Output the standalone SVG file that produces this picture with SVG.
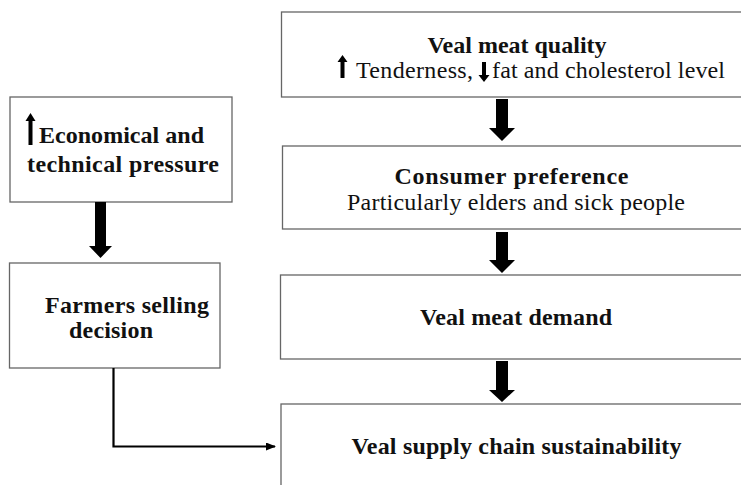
<svg xmlns="http://www.w3.org/2000/svg" width="741" height="485" viewBox="0 0 741 485">
<style>
.box{fill:#fff;stroke:#666;stroke-width:1.3}
text{font-family:'Liberation Serif','Times New Roman','DejaVu Serif',serif;font-size:24px;fill:#111}
.b{font-weight:bold}
.m{text-anchor:middle}
.big{fill:#000}
.conn{fill:none;stroke:#000;stroke-width:2.2}
</style>
<defs>
<marker id="ah" markerWidth="10" markerHeight="8" refX="9" refY="4" orient="auto" markerUnits="userSpaceOnUse">
<path d="M0,0 L10,4 L0,8 Z" fill="#000"/>
</marker>
</defs>
<rect width="741" height="485" fill="#fff"/>

<g id="quality">
<rect class="box" x="281.5" y="12" width="470" height="85"/>
<text class="b m" x="517" y="53">Veal meat quality</text>
<path d="M340.5,78 L340.5,62 L337.5,62 L342.5,55 L347.5,62 L344.5,62 L344.5,78 Z" fill="#000"/>
<text x="356" y="78" textLength="117">Tenderness,</text>
<path d="M482,62 L486,62 L486,75 L489.5,75 L484,82 L478.5,75 L482,75 Z" fill="#000"/>
<text x="492" y="78" textLength="233">fat and cholesterol level</text>
</g>

<g id="preference">
<rect class="box" x="282.5" y="146" width="470" height="83"/>
<text class="b m" x="511.5" y="184" textLength="234">Consumer preference</text>
<text class="m" x="516" y="210" textLength="338">Particularly elders and sick people</text>
</g>

<g id="demand">
<rect class="box" x="280.5" y="275" width="470" height="84"/>
<text class="b m" x="516" y="325" textLength="192">Veal meat demand</text>
</g>

<g id="sustainability">
<rect class="box" x="281" y="404" width="470" height="90"/>
<text class="b m" x="516.5" y="454" textLength="330">Veal supply chain sustainability</text>
</g>

<g id="pressure">
<rect class="box" x="10" y="97" width="222" height="105"/>
<path d="M28.5,145 L28.5,121 L25.5,121 L30.5,113 L35.5,121 L32.5,121 L32.5,145 Z" fill="#000"/>
<text class="b" x="39" y="143" textLength="165">Economical and</text>
<text class="b" x="27" y="172" textLength="192">technical pressure</text>
</g>

<g id="farmers">
<rect class="box" x="9.5" y="263" width="210.5" height="105"/>
<text class="b" x="45" y="313" textLength="164">Farmers selling</text>
<text class="b" x="69" y="338" textLength="84">decision</text>
</g>

<g id="connectors">
<path class="big" d="M95,202 L106,202 L106,246 L112,246 L100.5,258 L89,246 L95,246 Z"/>
<path class="big" d="M496,99 L508,99 L508,128 L515,128 L502,141 L489,128 L496,128 Z"/>
<path class="big" d="M496,232 L508,232 L508,260 L515,260 L502,273 L489,260 L496,260 Z"/>
<path class="big" d="M496,361 L508,361 L508,390 L515,390 L502,402 L489,390 L496,390 Z"/>
<path class="conn" d="M113.5,368 L113.5,446.5 L275,446.5" marker-end="url(#ah)"/>
</g>
</svg>
